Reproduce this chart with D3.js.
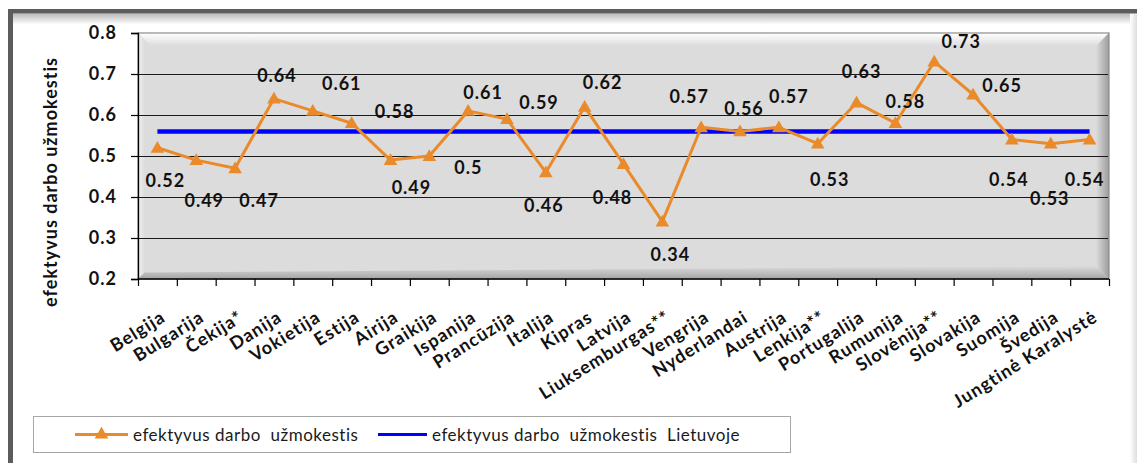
<!DOCTYPE html>
<html><head><meta charset="utf-8">
<script src="https://cdn.jsdelivr.net/npm/d3@7/dist/d3.min.js"></script>
<style>
body{margin:0;background:#fff}
svg{display:block}
text{font-family:Lato,"Open Sans",sans-serif}
</style>
</head><body><svg id="c" width="1137" height="463"></svg>
<script>
const categories = ["Belgija","Bulgarija","Čekija*","Danija","Vokietija","Estija","Airija","Graikija","Ispanija","Prancūzija","Italija","Kipras","Latvija","Liuksemburgas**","Vengrija","Nyderlandai","Austrija","Lenkija**","Portugalija","Rumunija","Slovėnija**","Slovakija","Suomija","Švedija","Jungtinė Karalystė"];
const values = [0.52,0.49,0.47,0.64,0.61,0.58,0.49,0.5,0.61,0.59,0.46,0.62,0.48,0.34,0.57,0.56,0.57,0.53,0.63,0.58,0.73,0.65,0.54,0.53,0.54];
const lithuania = [0.56,0.56,0.56,0.56,0.56,0.56,0.56,0.56,0.56,0.56,0.56,0.56,0.56,0.56,0.56,0.56,0.56,0.56,0.56,0.56,0.56,0.56,0.56,0.56,0.56];
const yTicks = [0.2,0.3,0.4,0.5,0.6,0.7,0.8];
const yTitle = "efektyvus darbo užmokestis";
const seriesNames = ["efektyvus darbo  užmokestis","efektyvus darbo  užmokestis  Lietuvoje"];

// label placement (style only): pixel offset of each data label from its point
const labelOffsets = [[8,32],[8,40],[24,32],[3,-24],[29,-28],[43,-12],[21,27],[39,11],[15,-19],[32,-17],[-2,33],[18,-25],[-11,33],[8,32],[-12,-31],[4,-23],[10,-31],[12,35],[5,-32],[10,-22],[27,-21],[29,-10],[-3,39],[-1,54],[-5,39]];

const ORANGE = "#e98a2b", BLUE = "#0000ff";
const svg = d3.select("#c");
const defs = svg.append("defs");
function lg(id, x1,y1,x2,y2, c1,c2){
  const g = defs.append("linearGradient").attr("id",id).attr("x1",x1).attr("y1",y1).attr("x2",x2).attr("y2",y2);
  g.append("stop").attr("offset","0%").attr("stop-color",c1);
  g.append("stop").attr("offset","100%").attr("stop-color",c2);
}
lg("gTopFrame",0,0,0,1,"#b8b8b8","#ffffff");
lg("gRightFrame",0,0,1,0,"#ffffff","#dedede");
lg("bTop",0,0,0,1,"#ffffff","#dcdcdc");
lg("bLeft",0,0,1,0,"#f2f2f2","#dcdcdc");
lg("bRight",0,0,1,0,"#dcdcdc","#9c9c9c");
lg("bBottom",0,0,0,1,"#dcdcdc","#a4a4a4");

// outer frame
svg.append("rect").attr("x",8).attr("y",9).attr("width",1129).attr("height",454).attr("fill","#fff");
svg.append("rect").attr("x",13).attr("y",13.5).attr("width",1119).attr("height",11).attr("fill","url(#gTopFrame)");
svg.append("rect").attr("x",1130).attr("y",13.5).attr("width",7).attr("height",450).attr("fill","url(#gRightFrame)");
svg.append("rect").attr("x",8).attr("y",9).attr("width",1129).attr("height",4.5).attr("fill","#5c5c5c");
svg.append("rect").attr("x",8).attr("y",9).attr("width",5).attr("height",454).attr("fill","#5c5c5c");

const X0=138, X1=1109, Y0=33, Y1=279, B=13;
const x = d3.scaleBand().domain(categories).range([X0,X1]).padding(0);
const y = d3.scaleLinear().domain([0.2,0.8]).range([Y1,Y0]);
const cx = c => x(c) + x.bandwidth()/2;

// plot area with bevel
const pa = svg.append("g");
pa.append("rect").attr("x",X0).attr("y",Y0).attr("width",X1-X0).attr("height",Y1-Y0).attr("fill","#dcdcdc");
const poly = (pts, fill) => pa.append("polygon").attr("points", pts.map(p=>p.join(",")).join(" ")).attr("fill",fill);
poly([[X0,Y0],[X1,Y0],[X1-B,Y0+B],[X0+B,Y0+B]],"url(#bTop)");
poly([[X0,Y0],[X0+B/2,Y0+B/2],[X0+B/2,Y1-B/2],[X0,Y1]],"url(#bLeft)");
poly([[X1,Y0],[X1,Y1],[X1-B,Y1-B],[X1-B,Y0+B]],"url(#bRight)");
poly([[X0,Y1],[X1,Y1],[X1-B,Y1-B],[X0+B/2,Y1-B/2]],"url(#bBottom)");
pa.append("rect").attr("x",X0).attr("y",Y0).attr("width",X1-X0).attr("height",Y1-Y0).attr("fill","none").attr("stroke","#8c8c8c").attr("stroke-width",1.2);

// gridlines
svg.append("g").selectAll("line").data(yTicks.filter(t=>t>0.2 && t<0.8)).join("line")
  .attr("x1",X0).attr("x2",X1-1).attr("y1",d=>Math.round(y(d))+0.5).attr("y2",d=>Math.round(y(d))+0.5)
  .attr("stroke","#1a1a1a").attr("stroke-width",1.1);

// y axis
const ya = svg.append("g").attr("transform",`translate(${X0},0)`)
  .call(d3.axisLeft(y).tickValues(yTicks).tickFormat(d3.format(".1f")).tickSize(7).tickPadding(14));
ya.select(".domain").attr("stroke","#000").attr("stroke-width",1.3);
ya.selectAll(".tick line").attr("stroke","#000").attr("stroke-width",1.2);
ya.selectAll(".tick text").attr("font-size",18).attr("font-weight","bold").attr("fill","#111")
  .style("letter-spacing","1px").attr("font-family","Lato");

// x axis line and boundary ticks
const xa = svg.append("g");
xa.append("line").attr("x1",X0).attr("x2",X1).attr("y1",Y1).attr("y2",Y1).attr("stroke","#000").attr("stroke-width",1.3);
const bounds = categories.map(c=>x(c)).concat([x(categories[categories.length-1])+x.bandwidth()]);
xa.selectAll("line.t").data(bounds).join("line").attr("class","t")
  .attr("x1",d=>d+0.5).attr("x2",d=>d+0.5).attr("y1",Y1).attr("y2",Y1+7).attr("stroke","#000").attr("stroke-width",1.2);
xa.selectAll("text").data(categories).join("text")
  .attr("transform",c=>`translate(${cx(c)+2},${Y1+30}) rotate(-32)`)
  .attr("text-anchor","end").attr("dy","0.75em")
  .attr("font-size",18).attr("font-weight","bold").attr("fill","#111")
  .style("letter-spacing","1px")
  .text(c=>c);

// y title
svg.append("text").attr("transform",`translate(57,182) rotate(-90)`)
  .attr("text-anchor","middle").attr("font-size",18).attr("font-weight","bold").attr("fill","#111")
  .style("letter-spacing","1px").text(yTitle);

// Lithuania line
const lineL = d3.line().x((d,i)=>cx(categories[i])).y(d=>y(d));
svg.append("path").datum(lithuania).attr("d",lineL).attr("fill","none").attr("stroke",BLUE).attr("stroke-width",4.5);

// main series
svg.append("path").datum(values).attr("d",lineL).attr("fill","none").attr("stroke",ORANGE).attr("stroke-width",3).attr("stroke-linejoin","round");
const tri = d3.symbol().type(d3.symbolTriangle).size(80);
svg.append("g").selectAll("path").data(values).join("path")
  .attr("d",tri).attr("transform",(d,i)=>`translate(${cx(categories[i])},${y(d)+1})`).attr("fill",ORANGE);

// data labels
svg.append("g").selectAll("text").data(values).join("text")
  .attr("x",(d,i)=>cx(categories[i])+labelOffsets[i][0])
  .attr("y",(d,i)=>y(d)+labelOffsets[i][1])
  .attr("text-anchor","middle").attr("dominant-baseline","central")
  .attr("font-size",18).attr("font-weight","bold").attr("fill","#111")
  .style("letter-spacing","1px")
  .text(d=>String(d));

// legend
const lgG = svg.append("g");
lgG.append("rect").attr("x",33.5).attr("y",416.5).attr("width",757).attr("height",36).attr("fill","#fff").attr("stroke","#a6a6a6").attr("stroke-width",1);
const ly = 434.5;
lgG.append("line").attr("x1",75).attr("x2",128).attr("y1",ly).attr("y2",ly).attr("stroke",ORANGE).attr("stroke-width",3);
lgG.append("path").attr("d",tri).attr("transform",`translate(101.5,${ly})`).attr("fill",ORANGE);
lgG.append("text").attr("x",133).attr("y",ly).attr("dominant-baseline","central")
  .attr("font-size",17).attr("fill","#1a1a1a").style("white-space","pre").style("letter-spacing","0.5px").text(seriesNames[0]);
lgG.append("line").attr("x1",378).attr("x2",427).attr("y1",ly).attr("y2",ly).attr("stroke",BLUE).attr("stroke-width",3);
lgG.append("text").attr("x",432).attr("y",ly).attr("dominant-baseline","central")
  .attr("font-size",17).attr("fill","#1a1a1a").style("white-space","pre").style("letter-spacing","0.5px").text(seriesNames[1]);
</script>
</body></html>
